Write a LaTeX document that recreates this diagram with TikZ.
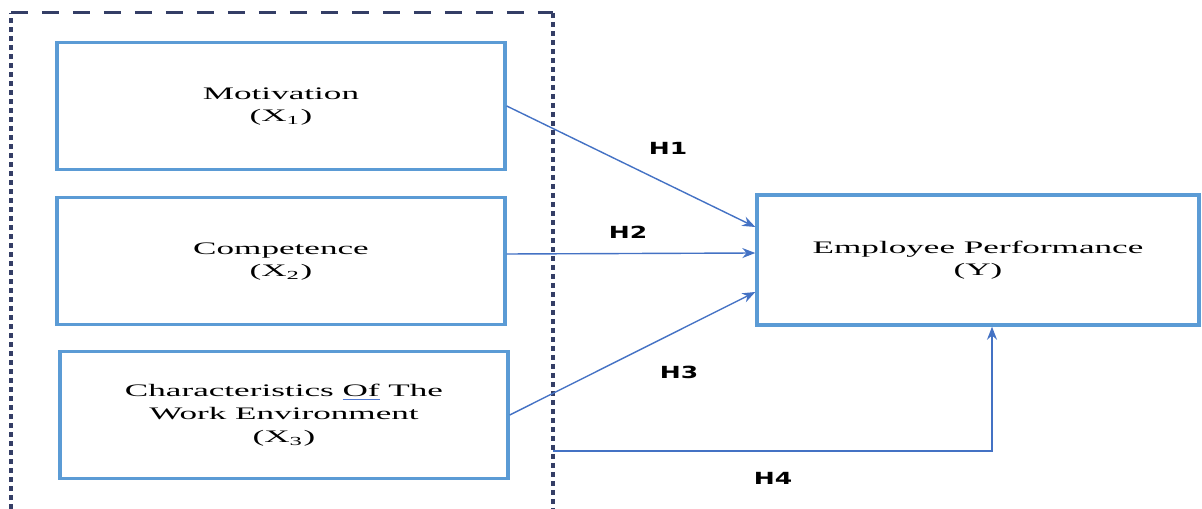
\documentclass[tikz,border=0pt]{standalone}
\usepackage{fontspec}
\usepackage{graphicx}
\setmainfont{Liberation Serif}
\newfontfamily\hypfont{DejaVu Sans}
\usetikzlibrary{arrows.meta, calc}

\definecolor{boxblue}{RGB}{91,155,213}
\definecolor{arrowblue}{RGB}{68,114,196}
\definecolor{framenavy}{RGB}{52,62,102}
\definecolor{spellblue}{RGB}{80,120,210}

\newcommand{\widetext}[1]{\scalebox{2.0}[1]{\fontsize{10}{13}\selectfont\begin{tabular}{@{}c@{}}#1\end{tabular}}}
\newcommand{\hyptext}[1]{\scalebox{1.5}[1]{\hypfont\bfseries\fontsize{9.5}{11}\selectfont #1}}
\newcommand{\spellmark}[1]{{\color{spellblue}\underline{\textcolor{black}{#1}}}}

\begin{document}
\begin{tikzpicture}[x=0.02cm, y=-0.02cm,
        varbox/.style={draw=boxblue, line width=0.07cm, fill=white, inner sep=0pt,
                       minimum width=8.96cm, minimum height=2.54cm},
        hyparrow/.style={draw=arrowblue, line width=0.8pt,
                         -{Stealth[length=0.26cm, width=0.2cm]}},
        hyplabel/.style={inner sep=0pt}]
        \useasboundingbox (0,0) rectangle (1202,509);

        % group frame round the independent variables
        \coordinate (ftl) at (11,13);
        \coordinate (ftr) at (553,13);
        \coordinate (fbl) at (11,509);
        \coordinate (fbr) at (553,509);
        \draw[framenavy, line width=0.06cm, dash pattern=on 0.34cm off 0.28cm] (ftl) -- (ftr);
        \draw[framenavy, line width=0.08cm, dash pattern=on 0.1cm off 0.08cm] (fbl) -- (ftl) (ftr) -- (fbr);

        % variables
        \node[varbox] (motiv) at (281,106) {\widetext{Motivation\\(X\textsubscript{1})}};
        \node[varbox] (comp) at (281,261) {\widetext{Competence\\(X\textsubscript{2})}};
        \node[varbox] (chars) at (284,415) {\widetext{Characteristics \spellmark{Of} The\\Work Environment\\(X\textsubscript{3})}};
        \node[varbox, minimum width=8.84cm, minimum height=2.6cm] (perf) at (978,260) {\widetext{Employee Performance\\(Y)}};

        % hypotheses
        \draw[hyparrow] (motiv.east) -- ($(perf.west)+(0,-33)$);
        \draw[hyparrow] ($(comp.east)+(0,-7)$) -- ($(perf.west)+(0,-7)$);
        \draw[hyparrow] (chars.east) -- ($(perf.west)+(0,32)$);
        \coordinate (h4start) at (553,451);
        \draw[hyparrow] (h4start) -| ($(perf.south)+(14,0)$);

        \node[hyplabel] (h1) at (668,148) {\hyptext{H1}};
        \node[hyplabel] (h2) at (628,232) {\hyptext{H2}};
        \node[hyplabel] (h3) at (679,372) {\hyptext{H3}};
        \node[hyplabel] (h4) at (773,478) {\hyptext{H4}};
\end{tikzpicture}
\end{document}
